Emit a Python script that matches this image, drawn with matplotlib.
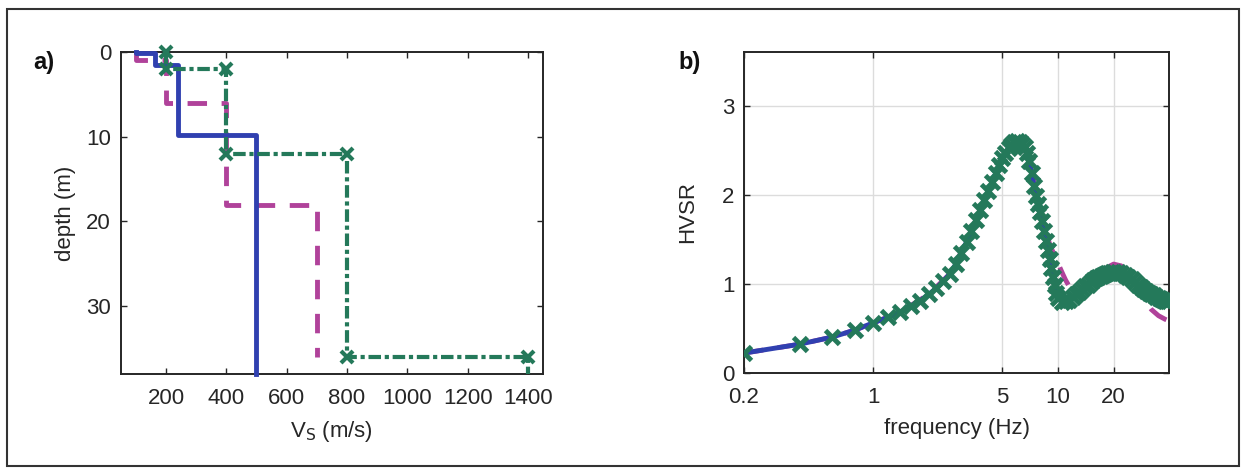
import numpy as np
import matplotlib
matplotlib.use('Agg')
import matplotlib.pyplot as plt
from matplotlib.patches import Rectangle

plt.rcParams['font.family'] = ['Liberation Sans', 'DejaVu Sans']

# ---- panel a: Vs profiles (layer velocities and interface depths)
blue_vs = [100, 165, 240, 500]
blue_depths = [0.1, 1.5, 9.8]
blue_bottom = 38
magenta_vs = [100, 200, 400, 700]
magenta_depths = [1, 6, 18]
magenta_bottom = 36
green_vs = [200, 400, 800, 1400]
green_depths = [2, 12, 36]
green_bottom = 38

# ---- panel b: HVSR curves
green_freq = [0.2, 0.4, 0.6, 0.8, 1.0, 1.2, 1.4, 1.6, 1.8, 2.0,
              2.2, 2.4, 2.6, 2.8, 3.0, 3.2, 3.4, 3.6, 3.8, 4.0,
              4.2, 4.4, 4.6, 4.8, 5.0, 5.2, 5.4, 5.6, 5.8, 6.0,
              6.2, 6.4, 6.6, 6.8, 7.0, 7.2, 7.4, 7.6, 7.8, 8.0,
              8.2, 8.4, 8.6, 8.8, 9.0, 9.2, 9.4, 9.6, 9.8, 10.0,
              10.5, 11.0, 11.5, 12.0, 12.5, 13.0, 13.5, 14.0, 14.5, 15.0,
              15.5, 16.0, 16.5, 17.0, 17.5, 18.0, 18.5, 19.0, 19.5, 20.0,
              21, 22, 23, 24, 25, 26, 27, 28, 29, 30,
              31, 32, 33, 34, 35, 36, 37, 38, 39, 40]
green_hvsr = [0.22, 0.32, 0.40, 0.48, 0.56, 0.62, 0.68, 0.75, 0.81, 0.88,
              0.95, 1.03, 1.11, 1.22, 1.34, 1.47, 1.59, 1.71, 1.83, 1.94,
              2.04, 2.14, 2.24, 2.33, 2.41, 2.47, 2.52, 2.56, 2.59, 2.60,
              2.59, 2.57, 2.53, 2.47, 2.38, 2.24, 2.10, 1.99, 1.89, 1.80,
              1.70, 1.59, 1.48, 1.38, 1.28, 1.18, 1.08, 0.98, 0.90, 0.84,
              0.79, 0.80, 0.82, 0.85, 0.88, 0.91, 0.94, 0.97, 0.99, 1.02,
              1.04, 1.06, 1.08, 1.09, 1.10, 1.11, 1.12, 1.125, 1.13, 1.135,
              1.135, 1.12, 1.10, 1.08, 1.05, 1.02, 0.99, 0.96, 0.94, 0.92,
              0.90, 0.88, 0.87, 0.85, 0.84, 0.83, 0.82, 0.81, 0.80, 0.80]
blue_hvsr = green_hvsr  # blue model curve lies under the green one

magenta_freq = [0.2, 0.4, 0.6, 0.8, 1.0, 1.4, 2.0, 2.6, 3.2, 4.0,
                4.5, 5.0, 5.5, 6.0, 6.5, 7.0, 7.5, 8.0, 8.5, 9.0,
                9.5, 10.0, 10.5, 11.0, 11.5, 12.0, 12.5, 13, 14, 16,
                18, 20, 22, 24, 26, 28, 30, 32, 35, 38, 40]
magenta_hvsr = [0.22, 0.32, 0.40, 0.48, 0.56, 0.68, 0.88, 1.11, 1.47, 1.94,
                2.18, 2.41, 2.55, 2.60, 2.55, 2.38, 2.10, 1.85, 1.62, 1.45,
                1.33, 1.23, 1.13, 1.04, 0.97, 0.93, 0.92, 0.93, 0.98, 1.08,
                1.17, 1.22, 1.20, 1.12, 1.00, 0.89, 0.79, 0.71, 0.64, 0.60, 0.58]

BLUE = '#3040B0'
MAGENTA = '#B0429A'
GREEN = '#24795A'
TXT = '#262626'


def steps(vs, depths, bottom):
    v = [vs[0]]
    d = [0]
    for i, z in enumerate(depths):
        v += [vs[i], vs[i + 1]]
        d += [z, z]
    v.append(vs[-1])
    d.append(bottom)
    return v, d


def style(ax):
    ax.tick_params(direction='in', length=4, width=1, top=True, right=True,
                   labelsize=16, colors=TXT, labelcolor=TXT)
    ax.tick_params(axis='x', pad=10)
    ax.tick_params(axis='y', pad=7)
    for s in ax.spines.values():
        s.set_linewidth(1.4)
        s.set_color(TXT)


fig = plt.figure(figsize=(12.46, 4.73), dpi=100)
fig.patches.append(Rectangle((7 / 1246, 7 / 473), 1232 / 1246, 457 / 473,
                             transform=fig.transFigure, fill=False,
                             edgecolor='#333333', linewidth=1.5))

# panel a
ax1 = fig.add_axes([0.0969, 0.2093, 0.3389, 0.6808])
bv, bd = steps(blue_vs, blue_depths, blue_bottom)
mv, md = steps(magenta_vs, magenta_depths, magenta_bottom)
gv, gd = steps(green_vs, green_depths, green_bottom)
ax1.plot(bv, bd, color=BLUE, lw=3.5, clip_on=False, zorder=3)
ax1.plot(mv, md, color=MAGENTA, lw=3.5, dashes=(4, 3), zorder=2)
ax1.plot(gv, gd, color=GREEN, lw=3, dashes=(3, 0.9, 1, 0.9),
         marker='x', ms=9, mew=3, markevery=list(range(len(gv) - 1)),
         clip_on=False, zorder=4)
ax1.set_xlim(50, 1450)
ax1.set_ylim(38, 0)
ax1.set_xticks([200, 400, 600, 800, 1000, 1200, 1400])
ax1.set_yticks([0, 10, 20, 30])
style(ax1)
ax1.set_xlabel(r'V$_\mathrm{S}$ (m/s)', fontsize=16, color=TXT)
ax1.set_ylabel('depth (m)', fontsize=16, color=TXT)
ax1.xaxis.set_label_coords(0.5, -0.14)
ax1.yaxis.set_label_coords(-0.106, 0.5)
fig.text(44 / 1246, 1 - 63 / 473, 'a)', fontsize=17, fontweight='bold',
         ha='center', va='center', color='#111111')

# panel b
ax2 = fig.add_axes([0.5971, 0.2121, 0.3413, 0.6774])
ax2.plot(magenta_freq, magenta_hvsr, color=MAGENTA, lw=3.5,
         dashes=(4, 3), zorder=2)
ax2.plot(green_freq, blue_hvsr, color=BLUE, lw=3.5, zorder=3)
ax2.plot(green_freq, green_hvsr, ls='none', marker='x', ms=10, mew=3.5,
         color=GREEN, zorder=4)
ax2.set_xscale('log')
ax2.set_xlim(0.2, 40)
ax2.set_ylim(0, 3.6)
ax2.set_xticks([0.2, 1, 5, 10, 20])
ax2.set_xticklabels(['0.2', '1', '5', '10', '20'])
ax2.xaxis.set_minor_locator(matplotlib.ticker.NullLocator())
ax2.set_yticks([0, 1, 2, 3])
ax2.grid(True, color='#dcdcdc', lw=1)
ax2.set_axisbelow(True)
style(ax2)
ax2.set_xlabel('frequency (Hz)', fontsize=16, color=TXT)
ax2.set_ylabel('HVSR', fontsize=16, color=TXT)
ax2.xaxis.set_label_coords(0.5, -0.14)
ax2.yaxis.set_label_coords(-0.108, 0.5)
fig.text(690 / 1246, 1 - 63 / 473, 'b)', fontsize=17, fontweight='bold',
         ha='center', va='center', color='#111111')

fig.savefig('out.png', dpi=100)
